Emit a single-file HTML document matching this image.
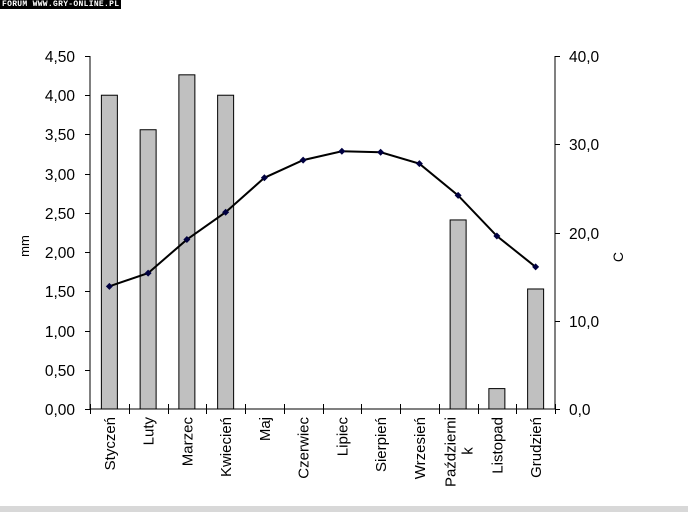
<!DOCTYPE html>
<html><head><meta charset="utf-8"><style>
body{margin:0;background:#fff;width:688px;height:512px;overflow:hidden;font-family:"Liberation Sans",sans-serif}
#wm{position:absolute;left:0;top:0;background:#000;color:#fff;font:bold 8px "Liberation Mono",monospace;padding:0 2px;height:9px;line-height:9px;letter-spacing:0.3px}
</style></head><body>
<div id="wm">FORUM WWW.GRY-ONLINE.PL</div>
<svg id="c" width="688" height="512" style="position:absolute;left:0;top:0"></svg>
<script>
const categories=["Styczeń","Luty","Marzec","Kwiecień","Maj","Czerwiec","Lipiec","Sierpień","Wrzesień","Październi\nk","Listopad","Grudzień"];
const rainfall=[4.00,3.56,4.26,4.00,0,0,0,0,0,2.41,0.26,1.53];
const temperature=[13.9,15.4,19.2,22.3,26.2,28.2,29.2,29.1,27.8,24.2,19.6,16.1];
const leftTicks=[0,0.5,1,1.5,2,2.5,3,3.5,4,4.5];
const rightTicks=[0,10,20,30,40];
const svg=document.getElementById('c');const NS='http://www.w3.org/2000/svg';
function mk(t,a,p){const e=document.createElementNS(NS,t);for(const k in a)e.setAttribute(k,a[k]);(p||svg).appendChild(e);return e;}
const X0=90,X1=555,Y0=409,Y1=56;
const step=(X1-X0)/categories.length;
const yL=v=>Y0-(v/4.5)*(Y0-Y1);
const yR=v=>Y0-(v/40)*(Y0-Y1);
const xC=i=>X0+step*(i+0.5);
let e;
e=mk('rect',{x:0,y:506,width:688,height:6,fill:'#d8d8d8'});


rainfall.forEach((v,i)=>{if(v<=0)return;
 const b=mk('rect',{x:xC(i)-8,y:yL(v),width:16,height:Y0-yL(v),fill:'#c0c0c0',stroke:'#000','stroke-width':1});
 
 });
e=mk('line',{x1:X0,y1:Y1,x2:X0,y2:Y0,stroke:'#000'});


e=mk('line',{x1:X1,y1:Y1,x2:X1,y2:Y0,stroke:'#000'});


e=mk('line',{x1:X0,y1:Y0,x2:X1,y2:Y0,stroke:'#000'});


leftTicks.forEach(v=>{const y=Math.round(yL(v))+0.5;
 mk('line',{x1:X0-5,y1:y,x2:X0,y2:y,stroke:'#000'});
 const t=mk('text',{x:75,y:y+5.5,'text-anchor':'end','font-size':15.5});t.textContent=v.toFixed(2).replace('.',',');
 
 });
rightTicks.forEach(v=>{const y=Math.round(yR(v))+0.5;
 mk('line',{x1:X1,y1:y,x2:X1+5,y2:y,stroke:'#000'});
 const t=mk('text',{x:569,y:y+5.5,'font-size':15.5});t.textContent=v.toFixed(1).replace('.',',');
 
 });
for(let i=0;i<=categories.length;i++){const x=Math.round(X0+step*i)+0.5;mk('line',{x1:x,y1:Y0-5,x2:x,y2:Y0+5,stroke:'#000'});}
categories.forEach((c,i)=>{const lines=c.split('\n');const x=xC(i);
 const t=mk('text',{transform:`translate(${x+5.5-(lines.length-1)*8},417) rotate(-90)`,'text-anchor':'end','font-size':15});
 lines.forEach((l,j)=>{const s=mk('tspan',{x:0,dy:j?17:0,'text-anchor':lines.length>1&&j>0?'middle':'end'},t);if(j>0)s.setAttribute('x',-34);s.textContent=l;});
 
 });
const pts=temperature.map((v,i)=>xC(i)+','+yR(v)).join(' ');
e=mk('polyline',{points:pts,fill:'none',stroke:'#000','stroke-width':2});


temperature.forEach((v,i)=>{const x=xC(i),y=yR(v);
 const m=mk('polygon',{points:`${x},${y-3.5} ${x+3.5},${y} ${x},${y+3.5} ${x-3.5},${y}`,fill:'#000040'});
 
 });
e=mk('text',{transform:'translate(29,246) rotate(-90)','text-anchor':'middle','font-size':13});e.textContent='mm';


e=mk('text',{transform:'translate(623,257) rotate(-90)','text-anchor':'middle','font-size':14});e.textContent='C';


</script>
</body></html>
